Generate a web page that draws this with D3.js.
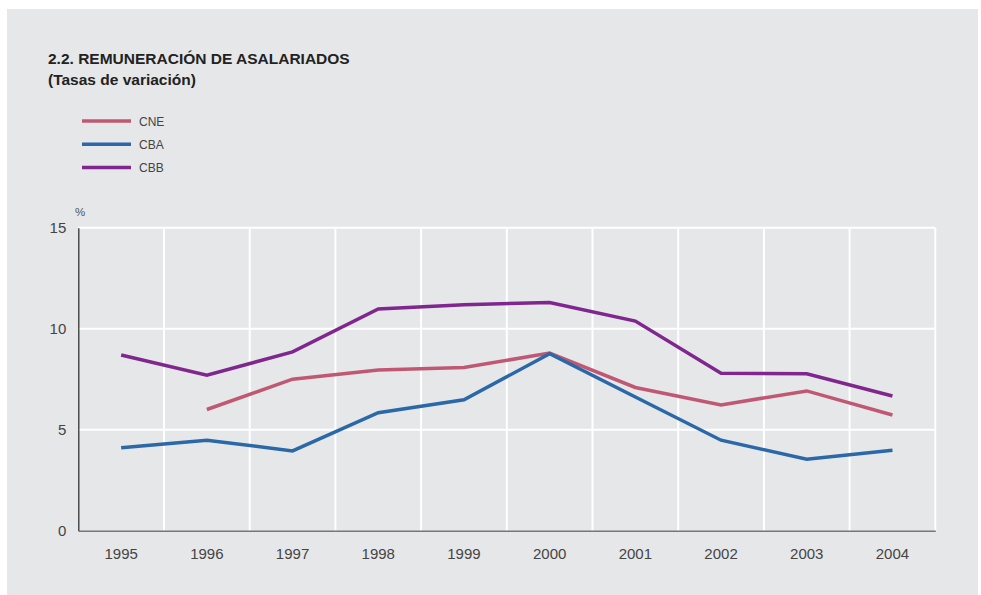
<!DOCTYPE html>
<html>
<head>
<meta charset="utf-8">
<script src="https://cdn.jsdelivr.net/npm/d3@7"></script>
<style>
  body { margin: 0; background: #fff; }
  text { font-family: "Liberation Sans", Arial, sans-serif; }
</style>
</head>
<body>
<script>
const years = ["1995", "1996", "1997", "1998", "1999", "2000", "2001", "2002", "2003", "2004"];
const cne = [null, 6.0, 7.5, 7.96, 8.08, 8.79, 7.09, 6.23, 6.92, 5.73];
const cba = [4.11, 4.48, 3.95, 5.84, 6.48, 8.76, 6.62, 4.48, 3.54, 3.98];
const cbb = [8.7, 7.7, 8.85, 10.98, 11.18, 11.3, 10.38, 7.8, 7.77, 6.67];
const yTicks = [0, 5, 10, 15];

const series = [
  { name: "CNE", values: cne, color: "#c15873" },
  { name: "CBA", values: cba, color: "#2a68a7" },
  { name: "CBB", values: cbb, color: "#80278f" }
];

const width = 981, height = 595;
const svg = d3.select("body").append("svg")
  .attr("width", width).attr("height", height);

svg.append("rect")
  .attr("x", 7).attr("y", 9).attr("width", 971).attr("height", 586)
  .attr("fill", "#e6e7e9");

const x = d3.scaleBand().domain(years).range([78.3, 935.3]);
const y = d3.scaleLinear().domain([0, 15]).range([530.7, 227.7]);

// title
svg.append("text").attr("x", 48).attr("y", 63.5)
  .attr("font-size", 15.5).attr("font-weight", "bold").attr("fill", "#222")
  .text("2.2. REMUNERACIÓN DE ASALARIADOS");
svg.append("text").attr("x", 48).attr("y", 84.5)
  .attr("font-size", 15.5).attr("font-weight", "bold").attr("fill", "#222")
  .text("(Tasas de variación)");

// legend
const leg = svg.append("g").selectAll("g").data(series).join("g")
  .attr("transform", (d, i) => `translate(82,${121 + i * 23.2})`);
leg.append("line").attr("x1", 0).attr("x2", 49)
  .attr("stroke", d => d.color).attr("stroke-width", 3.5);
leg.append("text").attr("x", 57).attr("y", 4.5)
  .attr("font-size", 12).attr("fill", "#444").text(d => d.name);

// grid
const grid = svg.append("g").attr("stroke", "#fff").attr("stroke-width", 2);
grid.selectAll(".h").data(yTicks.filter(t => t > 0)).join("line")
  .attr("x1", x.range()[0]).attr("x2", x.range()[1])
  .attr("y1", d => y(d)).attr("y2", d => y(d));
grid.selectAll(".v").data(years.slice(1).concat(["end"])).join("line")
  .attr("x1", d => d === "end" ? x.range()[1] : x(d))
  .attr("x2", d => d === "end" ? x.range()[1] : x(d))
  .attr("y1", y(15)).attr("y2", y(0));

// y axis
const yAxis = svg.append("g").attr("transform", `translate(${x.range()[0]},0)`)
  .call(d3.axisLeft(y).tickValues(yTicks).tickSize(0).tickPadding(12));
yAxis.select(".domain").attr("stroke", "#333").attr("stroke-width", 1.3);
yAxis.selectAll("text").attr("font-size", 15).attr("fill", "#444")
  .attr("font-family", "Liberation Sans, Arial, sans-serif");

svg.append("text").attr("x", 75).attr("y", 216)
  .attr("font-size", 11.5).attr("fill", "#555").text("%");

// x axis
const xAxis = svg.append("g").attr("transform", `translate(0,${y(0)})`)
  .call(d3.axisBottom(x).tickSize(0).tickPadding(18));
xAxis.select(".domain").attr("stroke", "#777").attr("stroke-width", 1.6);
xAxis.selectAll("text").attr("font-size", 15).attr("fill", "#444")
  .attr("font-family", "Liberation Sans, Arial, sans-serif");

// lines
const line = d3.line()
  .defined(d => d.v != null)
  .x(d => x(d.year) + x.bandwidth() / 2)
  .y(d => y(d.v));

svg.append("g").attr("fill", "none")
  .selectAll("path").data(series).join("path")
  .attr("stroke", d => d.color).attr("stroke-width", 3.5)
  .attr("stroke-linejoin", "miter")
  .attr("d", d => line(d.values.map((v, i) => ({ year: years[i], v }))));
</script>
</body>
</html>
